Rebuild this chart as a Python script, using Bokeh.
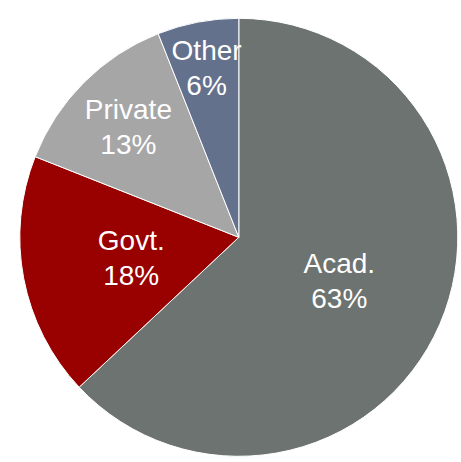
import math
from bokeh.plotting import figure
from bokeh.models import Range1d, ColumnDataSource
from bokeh.core.properties import value
from bokeh.embed import file_html
from bokeh.resources import INLINE

# ---- data ----
categories = ["Acad.", "Govt.", "Private", "Other"]
shares = [63, 18, 13, 6]
colors = ["#6D7370", "#990000", "#A6A6A6", "#64718C"]
label_radius_frac = [0.50, 0.50, 0.713, 0.785]

W, H = 461, 462
R = 219.0
cx_px, cy_px = 238.3, 236.8  # pie centre in figure pixels (from top-left)

p = figure(width=W, height=H, output_backend="svg", toolbar_location=None,
           x_range=Range1d(-cx_px, W - cx_px), y_range=Range1d(-(H - cy_px), cy_px),
           min_border=0)
p.axis.visible = False
p.grid.visible = False
p.outline_line_color = None
p.background_fill_color = "white"
p.border_fill_color = "white"

total = float(sum(shares))
starts, ends, mids = [], [], []
cum = 0.0
for s in shares:
    a0 = math.pi / 2 - 2 * math.pi * cum / total
    cum += s
    a1 = math.pi / 2 - 2 * math.pi * cum / total
    starts.append(a0)
    ends.append(a1)
    mids.append((a0 + a1) / 2)

src = ColumnDataSource(dict(start=starts, end=ends, color=colors))
p.wedge(x=0, y=0, radius=R, start_angle="start", end_angle="end", direction="clock",
        fill_color="color", line_color="white", line_width=1, source=src)

fs = 28
gap = 35
names_x, names_y, pct_x, pct_y, pct_txt = [], [], [], [], []
for c, s, m, f in zip(categories, shares, mids, label_radius_frac):
    lx = R * f * math.cos(m)
    ly = R * f * math.sin(m)
    names_x.append(lx)
    names_y.append(ly + gap / 2)
    pct_x.append(lx)
    pct_y.append(ly - gap / 2)
    pct_txt.append(f"{s}%")

p.text(x=names_x, y=names_y, text=categories, text_color="white",
       text_font=value("Liberation Sans"), text_font_size=f"{fs}px",
       text_align="center", text_baseline="middle")
p.text(x=pct_x, y=pct_y, text=pct_txt, text_color="white",
       text_font=value("Liberation Sans"), text_font_size=f"{fs}px",
       text_align="center", text_baseline="middle")

open("out.html", "w").write(file_html(p, INLINE))
